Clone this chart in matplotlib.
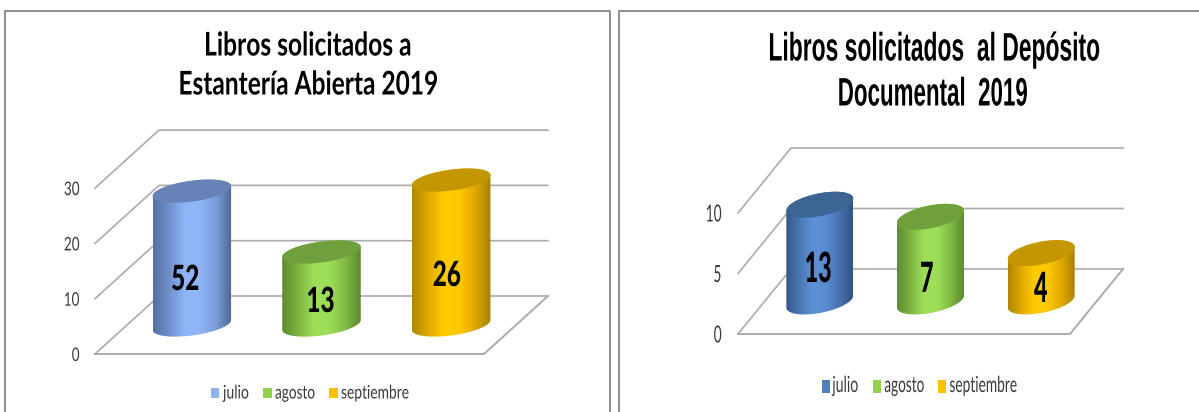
import numpy as np
import matplotlib
matplotlib.use("Agg")
import matplotlib.pyplot as plt
from matplotlib.colors import LinearSegmentedColormap
from matplotlib.patches import Polygon, Rectangle
from matplotlib.lines import Line2D
from matplotlib.patheffects import AbstractPathEffect
from matplotlib.transforms import Affine2D

# ---- data ----
categories = ["julio", "agosto", "septiembre"]
left_title = ["Libros solicitados a", "Estantería Abierta 2019"]
left_values = [24.2, 13.2, 26.2]
left_labels = ["52", "13", "26"]
left_ticks = [0, 10, 20, 30]
right_title = ["Libros solicitados  al Depósito", "Documental  2019"]
right_values = [8.0, 7.0, 4.0]
right_labels = ["13", "7", "4"]
right_ticks = [0, 5, 10]

W, H = 1199, 412
plt.rcParams["font.family"] = ["Lato", "Liberation Sans", "DejaVu Sans"]
fig = plt.figure(figsize=(W / 100, H / 100), dpi=100, facecolor="white")
renderer = fig.canvas.get_renderer()


class Squeeze(AbstractPathEffect):
    """Narrows the glyphs of a real text horizontally, keeping its alignment."""
    def __init__(self, sx, align="center", sy=1.0):
        super().__init__()
        self.sx, self.align, self.sy = sx, align, sy

    def draw_path(self, renderer, gc, tpath, affine, rgbFace=None):
        w = tpath.get_extents().x1
        k = {"center": 0.5, "right": 1.0, "left": 0.0}[self.align]
        local = Affine2D().scale(self.sx, self.sy).translate((1 - self.sx) * w * k, 0)
        renderer.draw_path(gc, tpath, local + affine, rgbFace)


def fx(p): return p / W
def fy(p): return 1 - p / H


def put(px, py, s, size, width=None, sx=None, ha="center", sy=1.0, **kw):
    t = fig.text(fx(px), fy(py), s, ha=ha, va="center", fontsize=size, **kw)
    if width is not None:
        sx = width / t.get_window_extent(renderer).width
    t.set_path_effects([Squeeze(sx, ha, sy)])
    return t


left_styles = [
    dict(body=["#566F9E", "#6F8FCB", "#8FB5F8", "#8FB5F8", "#7A9CD8", "#4F6692"], top="#6983B8"),
    dict(body=["#5C8A30", "#7DB440", "#9CDE58", "#9CDE58", "#82BC46", "#5A8830"], top="#70A03C"),
    dict(body=["#B08600", "#E0AA00", "#FFCC00", "#FFC800", "#E0A800", "#A88000"], top="#C49700"),
]
right_styles = [
    dict(body=["#33588A", "#4A78B4", "#5C90D6", "#5A8CD0", "#4672AC", "#2F5484"], top="#3C6593"),
    left_styles[1],
    left_styles[2],
]
left_legend = ["#8DB2F0", "#92D050", "#FFC000"]
right_legend = ["#4F81BD", "#92D050", "#FFC000"]
GRID = "#ABABAB"


def chart(values, labels, ticks, title, styles, legend_cols, geo):
    x0, x1, y0 = geo["x0"], geo["x1"], geo["y0"]
    ddx, ddy = geo["dx"], geo["dy"]
    unit = geo["unit"]
    cat = (x1 - x0) / 3
    top_px = y0 - ticks[-1] * unit - ddy
    right_px = x1 + ddx
    ax = fig.add_axes([fx(x0), fy(y0), (right_px - x0) / W, (y0 - top_px) / H])
    xlim = (0, (right_px - x0) / cat)
    ylim = (0, (y0 - top_px) / unit)
    ax.patch.set_alpha(0)
    for s in ax.spines.values():
        s.set_visible(False)
    ax.set_xticks([])
    ax.set_yticks(ticks)
    ax.tick_params(axis="y", length=0, pad=geo["pad"], labelsize=geo["tick_fs"], labelcolor="#3A3A3A")
    for lab in ax.get_yticklabels():
        lab.set_path_effects([Squeeze(geo["tick_sx"], "right")])

    dxd, dyd = ddx / cat, ddy / unit
    for t in ticks:
        ax.plot([0, dxd, dxd + 3], [t, t + dyd, t + dyd], color=GRID,
                lw=geo["lw"], clip_on=False, zorder=1, solid_joinstyle="miter")
    ax.plot([dxd + 3, 3, 0], [dyd, 0, 0], color=GRID, lw=geo["lw"] + 0.2, clip_on=False, zorder=1)

    A = geo["width"] / 2 / cat
    B, S = geo["B"] / unit, geo["S"] / unit
    t = np.linspace(0, 2 * np.pi, 181)
    low = t[t >= np.pi]
    for i, v in enumerate(values):
        cx = i + 0.5 + dxd / 2
        base = dyd / 2
        topc = base + v
        xs_b = cx + A * np.cos(low)
        ys_b = base + S * np.cos(low) + B * np.sin(low)
        xs_t = cx + A * np.cos(low[::-1])
        ys_t = topc + S * np.cos(low[::-1]) - B * np.sin(low[::-1])
        body = Polygon(np.r_[np.c_[xs_b, ys_b], np.c_[xs_t, ys_t]], closed=True,
                       transform=ax.transData, fc="none", ec="none", zorder=2)
        ax.add_patch(body)
        g = np.linspace(0, 1, 256).reshape(1, -1)
        cmap = LinearSegmentedColormap.from_list("g", styles[i]["body"])
        im = ax.imshow(g, cmap=cmap, aspect="auto", zorder=3,
                       extent=(cx - A, cx + A, base - 2 * B, topc + 2 * B))
        im.set_clip_path(body)
        ax.add_patch(Polygon(np.c_[cx + A * np.cos(t), topc + S * np.cos(t) + B * np.sin(t)],
                             closed=True, fc=styles[i]["top"], ec="none", zorder=4))
    ax.set_xlim(*xlim)
    ax.set_ylim(*ylim)

    for (px, py), lab in zip(geo["label_xy"], labels):
        put(px, py, lab, geo["label_fs"], sx=geo["label_sx"], fontweight="black", color="black", zorder=10)

    for px, py, w, line in zip(geo["title_x"], geo["title_y"], geo["title_w"], title):
        put(px, py, line, geo["title_fs"], width=w, sy=geo["title_sy"], fontweight="bold", color="black",
            family=geo["title_font"])

    sq_w, sq_h = geo["leg_sq"]
    for sx_px, tx_px, tw, col, name in zip(geo["leg_sq_x"], geo["leg_txt_x"], geo["leg_txt_w"],
                                           legend_cols, categories):
        fig.add_artist(Rectangle((fx(sx_px), fy(geo["leg_y"] + sq_h / 2)), sq_w / W, sq_h / H,
                                 transform=fig.transFigure, fc=col, ec="none"))
        put(tx_px, geo["leg_y"], name, geo["leg_fs"], width=tw, ha="left", color="#3A3A3A")


chart(left_values, left_labels, left_ticks, left_title, left_styles, left_legend,
      dict(x0=95, x1=484, y0=354, dx=64, dy=58, unit=5.53, pad=11, tick_fs=13.5, tick_sx=0.72, lw=1.2,
           width=78.5, B=10.5, S=5, label_xy=[(185.5, 280), (320.7, 302), (447, 276)],
           label_fs=25, label_sx=0.7, title_x=[307.7, 308], title_y=[46, 85], title_w=[207, 259],
           title_fs=23.5, title_sy=1.0, title_font=["Lato"],
           leg_y=393, leg_fs=13.5, leg_sq=(8.5, 10.5), leg_sq_x=[210.5, 263, 329],
           leg_txt_x=[223, 275, 341], leg_txt_w=[26, 40, 68]))

chart(right_values, right_labels, right_ticks, right_title, right_styles, right_legend,
      dict(x0=738, x1=1070, y0=334, dx=53, dy=65, unit=12.1, pad=11.5, tick_fs=17, tick_sx=0.58, lw=1.2,
           width=67, B=11.5, S=6, label_xy=[(818.5, 270), (927, 280), (1041, 290)],
           label_fs=30, label_sx=0.56, title_x=[934, 933], title_y=[51, 96], title_w=[331, 190],
           title_fs=26, title_sy=1.1, title_font=["Liberation Sans"],
           leg_y=386, leg_fs=16, leg_sq=(8, 13), leg_sq_x=[821.6, 872.5, 938.3],
           leg_txt_x=[832.3, 884.3, 949.4], leg_txt_w=[26, 40, 68]))

FRAME = "#8C8C8C"
for xs, ys in [((5, 5, 610, 610), (H, 11, 11, H)), ((619, 619, W), (H, 11, 11))]:
    fig.add_artist(Line2D([fx(x) for x in xs], [fy(y) for y in ys], color=FRAME, lw=1.4))

fig.savefig("out.png", dpi=100)
